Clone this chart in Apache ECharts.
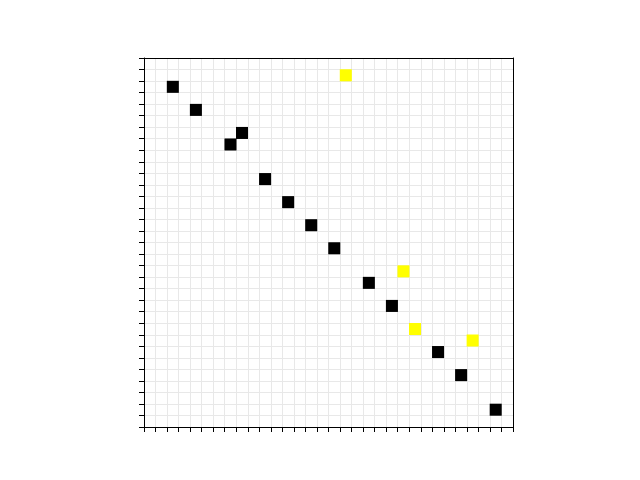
<!DOCTYPE html>
<html>
<head>
<meta charset="utf-8">
<script src="https://cdn.jsdelivr.net/npm/echarts@6/dist/echarts.min.js"></script>
<style>html,body{margin:0;padding:0;background:#fff;}#c{width:640px;height:480px;}</style>
</head>
<body>
<div id="c"></div>
<script>
var nCells = 32;
var blackCols = [2, 4, 8, 7, 10, 12, 14, 16, 19, 21, 25, 27, 30];
var blackRows = [2, 4, 6, 7, 10, 12, 14, 16, 19, 21, 25, 27, 30];
var yellowCols = [17, 22, 23, 28];
var yellowRows = [1, 18, 23, 24];

var cats = [];
for (var i = 0; i < nCells; i++) cats.push(String(i));

var data = [];
blackCols.forEach(function (c, i) { data.push([c, blackRows[i], 1]); });
yellowCols.forEach(function (c, i) { data.push([c, yellowRows[i], 2]); });

var chart = echarts.init(document.getElementById('c'), null, {renderer: 'canvas'});
var axisCommon = {
  type: 'category',
  data: cats,
  boundaryGap: true,
  axisLabel: {show: false, interval: 0},
  axisLine: {show: true, onZero: false, lineStyle: {color: '#000', width: 1}},
  axisTick: {show: true, interval: 0, length: 5, inside: false, lineStyle: {color: '#000', width: 1}},
  splitLine: {show: true, interval: 0, lineStyle: {color: '#e8e8e8', width: 1}}
};
var spine = {
  type: 'category',
  data: cats,
  boundaryGap: true,
  axisLabel: {show: false},
  axisTick: {show: false},
  splitLine: {show: false},
  axisLine: {show: true, onZero: false, lineStyle: {color: '#000', width: 1}}
};
chart.setOption({
  animation: false,
  backgroundColor: '#fff',
  grid: {left: 144, top: 58, width: 369, height: 369},
  xAxis: [Object.assign({}, axisCommon, {position: 'bottom'}), Object.assign({}, spine, {position: 'top'})],
  yAxis: [Object.assign({}, axisCommon, {inverse: true, position: 'left'}), Object.assign({}, spine, {inverse: true, position: 'right'})],
  visualMap: {
    show: false,
    type: 'piecewise',
    dimension: 2,
    pieces: [{value: 1, color: '#000000'}, {value: 2, color: '#ffff00'}]
  },
  series: [{
    type: 'heatmap',
    data: data,
    xAxisIndex: 0,
    yAxisIndex: 0,
    itemStyle: {borderWidth: 0},
    emphasis: {disabled: true}
  }]
});
</script>
</body>
</html>
